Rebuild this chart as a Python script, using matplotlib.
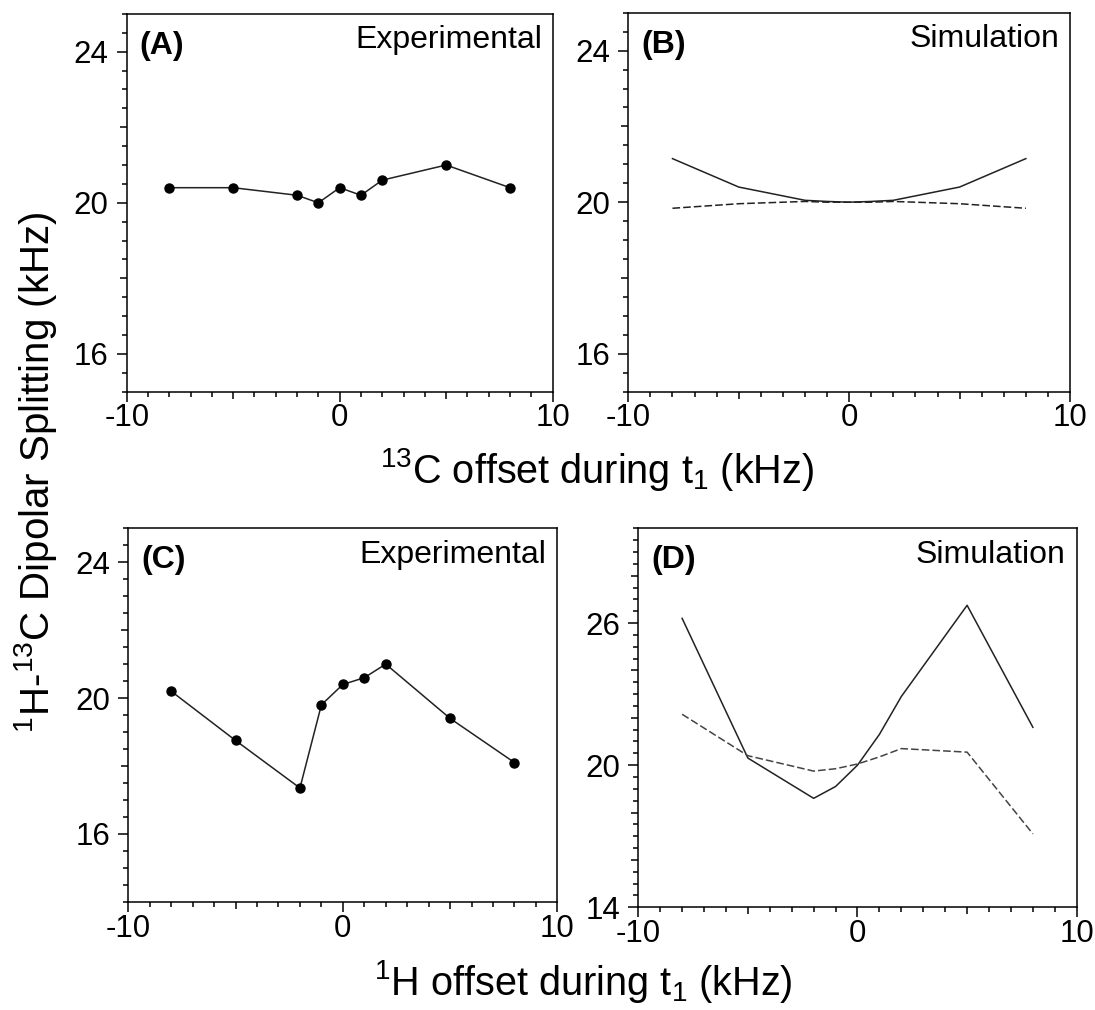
import matplotlib
matplotlib.use('Agg')
import matplotlib.pyplot as plt
from matplotlib.ticker import MultipleLocator

plt.rcParams['font.family'] = ['Liberation Sans', 'DejaVu Sans']
plt.rcParams['mathtext.fontset'] = 'custom'
plt.rcParams['mathtext.rm'] = 'Liberation Sans'
plt.rcParams['mathtext.it'] = 'Liberation Sans:italic'

# offsets (kHz)
offsets = [-8, -5, -2, -1, 0, 1, 2, 5, 8]

# (A) 13C offset, experimental
exp_c13 = [20.4, 20.4, 20.2, 20.0, 20.4, 20.2, 20.6, 21.0, 20.4]
# (B) 13C offset, simulation (solid / dashed)
sim_c13_solid = [21.15, 20.4, 20.05, 20.02, 20.0, 20.02, 20.05, 20.4, 21.15]
sim_c13_dash = [19.84, 19.96, 20.02, 20.0, 20.0, 20.0, 20.02, 19.96, 19.84]
# (C) 1H offset, experimental
exp_h1 = [20.2, 18.75, 17.35, 19.8, 20.4, 20.6, 21.0, 19.4, 18.1]
# (D) 1H offset, simulation
sim_h1_solid = [26.2, 20.3, 18.6, 19.1, 20.0, 21.3, 22.9, 26.75, 21.6]
sim_h1_dash = [22.15, 20.4, 19.75, 19.85, 20.05, 20.35, 20.7, 20.55, 17.1]

fig = plt.figure(figsize=(10.95, 10.10), dpi=100)

axA = fig.add_axes([0.1157, 0.6122, 0.389, 0.374])
axB = fig.add_axes([0.5738, 0.6122, 0.4034, 0.3752])
axC = fig.add_axes([0.1172, 0.1072, 0.3918, 0.3697])
axD = fig.add_axes([0.5829, 0.1017, 0.4004, 0.3752])

lc = '#222222'


def style(ax, ylim, ymajor, ylabels, label, note):
    ax.set_xlim(-10, 10)
    ax.set_ylim(*ylim)
    xt = [-10, -5, 0, 5, 10]
    ax.set_xticks(xt)
    ax.set_xticklabels(['-10', '', '0', '', '10'])
    ax.xaxis.set_minor_locator(MultipleLocator(1))
    ax.set_yticks(ymajor)
    ax.set_yticklabels([str(v) if v in ylabels else '' for v in ymajor])
    ax.yaxis.set_minor_locator(MultipleLocator(0.5))
    ax.tick_params(which='major', direction='out', length=7, width=1.1,
                   labelsize=22.5)
    ax.tick_params(axis='y', which='major', pad=6)
    ax.tick_params(axis='x', which='major', pad=1.5)
    ax.tick_params(which='minor', direction='out', length=3.5, width=1.1)
    # medium-length ticks for the unlabelled majors
    for v, t in zip(xt, ax.xaxis.get_major_ticks()):
        if v in (-5, 5):
            t.tick1line.set_markersize(5)
    for v, t in zip(ymajor, ax.yaxis.get_major_ticks()):
        if v not in ylabels:
            t.tick1line.set_markersize(5)
    for s in ax.spines.values():
        s.set_linewidth(1.1)
    ax.text(0.03, 0.955, label, transform=ax.transAxes, fontsize=23,
            fontweight='bold', va='top', ha='left')
    ax.text(0.975, 0.97, note, transform=ax.transAxes, fontsize=23,
            va='top', ha='right')


axA.plot(offsets, exp_c13, '-o', color=lc, lw=1.1, ms=6.5, mfc='black', mec='black')
style(axA, (15, 25), [16, 18, 20, 22, 24], [16, 20, 24], '(A)', 'Experimental')

axB.plot(offsets, sim_c13_solid, '-', color=lc, lw=1.1)
axB.plot(offsets, sim_c13_dash, '--', color=lc, lw=1.1, dashes=(5, 2))
style(axB, (15, 25), [16, 18, 20, 22, 24], [16, 20, 24], '(B)', 'Simulation')

axC.plot(offsets, exp_h1, '-o', color=lc, lw=1.1, ms=6.5, mfc='black', mec='black')
style(axC, (14, 25), [16, 18, 20, 22, 24], [16, 20, 24], '(C)', 'Experimental')

axD.plot(offsets, sim_h1_solid, '-', color=lc, lw=1.1)
axD.plot(offsets, sim_h1_dash, '--', color='#444444', lw=1.1, dashes=(5, 2))
style(axD, (14, 30), [14, 16, 18, 20, 22, 24, 26, 28], [14, 20, 26],
      '(D)', 'Simulation')

fig.text(0.032, 0.532, r'$^{1}$H-$^{13}$C Dipolar Splitting (kHz)', rotation=90,
         fontsize=29, ha='center', va='center')
fig.text(0.545, 0.535, r'$^{13}$C offset during t$_{1}$ (kHz)', fontsize=28.5,
         ha='center', va='center')
fig.text(0.533, 0.028, r'$^{1}$H offset during t$_{1}$ (kHz)', fontsize=28.5,
         ha='center', va='center')

fig.savefig('out.png', dpi=100)
